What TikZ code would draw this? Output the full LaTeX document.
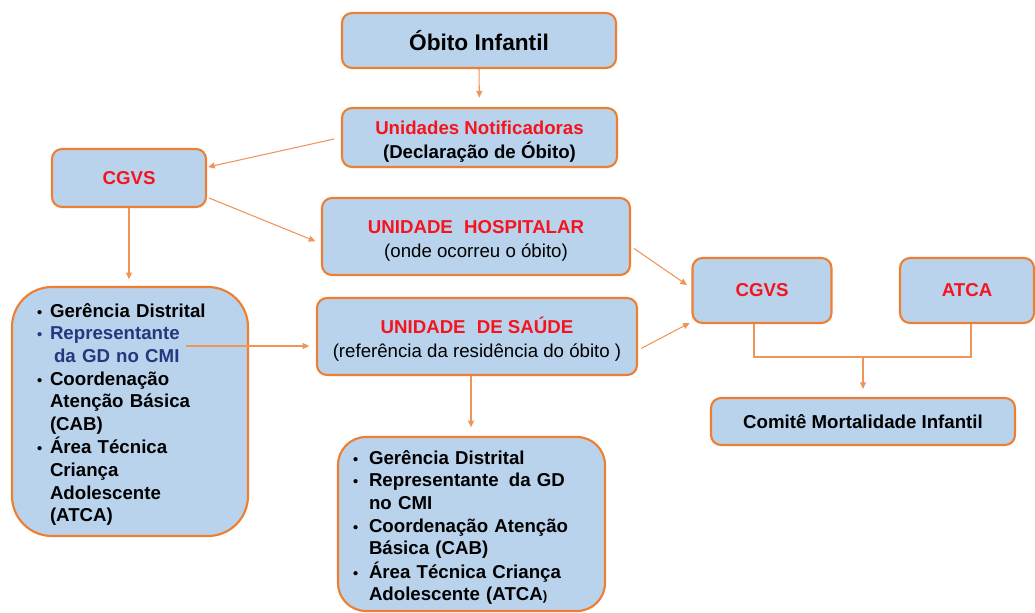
\documentclass[tikz,border=0pt]{standalone}
\usepackage{fontspec}
\setmainfont{Liberation Sans}
\usetikzlibrary{arrows.meta,calc}

\definecolor{boxfill}{HTML}{B9D3EC}
\definecolor{boxline}{HTML}{EE7E32}
\definecolor{linkline}{HTML}{F0955A}
\definecolor{alert}{HTML}{F5141E}
\definecolor{navy}{HTML}{22397F}

% small bullet for the lists, in a cell of fixed width
\newcommand\bul[1]{\makebox[#1][l]{\fontsize{11}{11}\selectfont\textbullet}}
% extra room above the first line of a two-line box
\newcommand\topgap{\rule{0pt}{16.5pt}}

\begin{document}
\begin{tikzpicture}[x=0.75pt,y=-0.75pt,
  box/.style={draw=boxline, fill=boxfill, line width=1.6pt, rounded corners=7.5pt,
    align=center, inner sep=0pt, font=\bfseries\fontsize{14}{18.5}\selectfont},
  listbox/.style={box, align=left, font=\bfseries\fontsize{14}{17}\selectfont},
  link/.style={draw=linkline, line width=0.8pt},
  arr/.style={link, -{Triangle[length=5pt,width=4.5pt]}},
]
\useasboundingbox (0,0) rectangle (1035,613);

% ---- boxes ----
\node[box, minimum width=205.5pt, minimum height=41.25pt,
      font=\bfseries\fontsize{17}{20}\selectfont] (obito) at (479,40.5) {Óbito Infantil};

\node[box, minimum width=206.25pt, minimum height=44.25pt] (notif) at (479.5,137.5)
  {\topgap\textcolor{alert}{Unidades Notificadoras}\\(Declaração de Óbito)};

\node[box, minimum width=115.5pt, minimum height=43.5pt] (cgvsL) at (129,178)
  {\textcolor{alert}{CGVS}};

\node[box, minimum width=231pt, minimum height=57.75pt] (hosp) at (476,236.5)
  {\topgap\textcolor{alert}{UNIDADE\hspace{0.6em}HOSPITALAR}\\{\mdseries (onde ocorreu o óbito)}};

\node[box, minimum width=240pt, minimum height=57.75pt] (saude) at (477,336.5)
  {\topgap\textcolor{alert}{UNIDADE\hspace{0.6em}DE SAÚDE}\\{\mdseries (referência da residência do óbito )}};

\node[box, minimum width=104.25pt, minimum height=48.75pt] (cgvsR) at (762,290.5)
  {\textcolor{alert}{CGVS}};

\node[box, minimum width=100.5pt, minimum height=48.75pt] (atca) at (967,290.5)
  {\textcolor{alert}{ATCA}};

\node[box, minimum width=228pt, minimum height=35.25pt] (comite) at (863,421.5)
  {Comitê Mortalidade Infantil};

\node[listbox, rounded corners=30pt, minimum width=177pt, minimum height=186.75pt,
      text width=139.5pt, inner xsep=18.75pt] (distL) at (130,411.5) {%
  \begin{tabular}{@{}l@{}l@{}}
  \rule{0pt}{16.9pt}\bul{9.75pt} & Gerência Distrital\\
  \textcolor{navy}{\bul{9.75pt}} & \textcolor{navy}{Representante}\\
   & \textcolor{navy}{\hspace{3pt}da GD no CMI}\\
  \bul{9.75pt} & Coordenação\\
   & Atenção Básica\\
   & (CAB)\\
  \bul{9.75pt} & Área Técnica\\
   & Criança\\
   & Adolescente\\
   & (ATCA)
  \end{tabular}};

\node[listbox, rounded corners=21pt, minimum width=200.25pt, minimum height=130.5pt,
      text width=177.75pt, inner xsep=11.25pt] (distB) at (471.5,524) {%
  \begin{tabular}{@{}l@{}l@{}}
  \rule{0pt}{17.9pt}\bul{12pt} & Gerência Distrital\\
  \bul{12pt} & Representante\hspace{0.55em}da GD\\
   & no CMI\\
  \bul{12pt} & Coordenação Atenção\\
   & Básica (CAB)\\
  \bul{12pt} & Área Técnica Criança\\
   & Adolescente (ATCA{\fontsize{10}{10}\selectfont)}
  \end{tabular}};

% ---- connectors ----
\draw[arr, shorten >=7pt] (obito.south) -- (notif.north);
\draw[arr, shorten <=5pt] (notif.west) -- ($(cgvsL.east)+(1,-11)$);
\draw[arr, shorten >=4.5pt] ($(cgvsL.east)+(2,20)$) -- ($(hosp.west)+(0,7)$);
\draw[arr, shorten >=5pt] (cgvsL.south) -- (cgvsL.south |- distL.north);

\coordinate (rep) at (186,346);
\draw[arr, shorten >=5pt] (rep) -- (rep -| saude.west);

\draw[arr, shorten >=4pt] ($(hosp.east)+(3,12)$) -- ($(cgvsR.west)+(0,-2.5)$);
\draw[arr, shorten >=1.5pt] ($(saude.east)+(3,12)$) -- ($(cgvsR.south west)+(0,-2)$);
\coordinate (sdown) at ($(saude.south)+(-6,0)$);
\draw[arr, shorten >=6.5pt] (sdown) -- (sdown |- distB.north);

\coordinate (merge) at (863,357);
\draw[link] ($(cgvsR.south)+(-8,0)$) |- (merge) -| ($(atca.south)+(4,0)$);
\draw[arr, shorten >=6pt] (merge) -- (comite.north);
\end{tikzpicture}
\end{document}
